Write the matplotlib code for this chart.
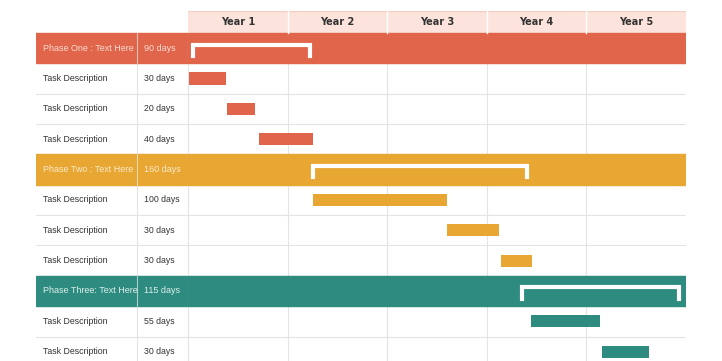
import matplotlib.pyplot as plt

# header years
years = ["Year 1", "Year 2", "Year 3", "Year 4", "Year 5"]

# phases
phase_names = ["Phase One : Text Here", "Phase Two : Text Here", "Phase Three: Text Here"]
phase_days = ["90 days", "160 days", "115 days"]
phase_start = [0.05, 1.26, 3.35]
phase_end = [1.22, 3.40, 4.93]
phase_colors = ["#E0654A", "#E8A633", "#2E8B80"]
phase_text = ["#F8DCD2", "#FBEBCB", "#DDF0EC"]

# tasks (positions in years)
task_days = [["30 days", "20 days", "40 days"],
             ["100 days", "30 days", "30 days"],
             ["55 days", "30 days"]]
task_start = [[0.01, 0.39, 0.71], [1.26, 2.60, 3.14], [3.44, 4.16]]
task_end = [[0.38, 0.67, 1.25], [2.60, 3.12, 3.45], [4.14, 4.63]]

W, H = 722, 361
fig = plt.figure(figsize=(W / 100, H / 100), dpi=100)
fig.patch.set_facecolor("white")

row_px = 30.35
head = 22 / row_px
y_bottom = (H - 33) / row_px

ax_t = fig.add_axes([36 / W, 0, (188 - 36) / W, (H - 11) / H])
ax_g = fig.add_axes([188 / W, 0, (686 - 188) / W, (H - 11) / H])
for ax in (ax_t, ax_g):
    ax.set_ylim(y_bottom, -head)
    ax.axis("off")
ax_t.set_xlim(0, 152)
ax_g.set_xlim(0, len(years))

grid = "#E4E4E4"

# header
ax_g.axhspan(-head, 0, color="#FCE3DB", zorder=1)
ax_g.axhline(-head, color="#F3CFC3", lw=1, zorder=2)
for i, yr in enumerate(years):
    ax_g.text(i + 0.5, -head / 2, yr, ha="center", va="center",
              fontsize=7, fontweight="bold", color="#333333", zorder=3)
    if i > 0:
        ax_g.plot([i, i], [-head, 0], color="white", lw=1, zorder=2)

# build rows
rows = []
for p in range(len(phase_names)):
    rows.append(("phase", p, None))
    for t in range(len(task_days[p])):
        rows.append(("task", p, t))

for r, (kind, p, t) in enumerate(rows):
    yc = r + 0.5
    if kind == "phase":
        for ax in (ax_t, ax_g):
            ax.axhspan(r, r + 1, color=phase_colors[p], zorder=1)
        ax_t.text(7, yc, phase_names[p], ha="left", va="center", fontsize=6.5,
                  family="Liberation Sans", color=phase_text[p], zorder=4)
        ax_t.text(108, yc, phase_days[p], ha="left", va="center", fontsize=6.5,
                  family="Liberation Sans", color=phase_text[p], zorder=4)
        ax_t.plot([101, 101], [r, r + 1], color="white", alpha=0.6, lw=0.8, zorder=3)
        ax_t.plot([152, 152], [r, r + 1], color="white", alpha=0.6, lw=0.8, zorder=3)
        s, e = phase_start[p], phase_end[p]
        ax_g.plot([s, s, e, e], [r + 0.75, r + 0.38, r + 0.38, r + 0.75],
                  color="white", lw=3, solid_joinstyle="miter", zorder=3)
    else:
        ax_t.text(7, yc, "Task Description", ha="left", va="center", fontsize=6.3,
                  family="Liberation Sans", color="#333333", zorder=4)
        ax_t.text(108, yc, task_days[p][t], ha="left", va="center", fontsize=6.3,
                  family="Liberation Sans", color="#333333", zorder=4)
        ax_t.plot([101, 101], [r, r + 1], color=grid, lw=0.8, zorder=0)
        ax_t.plot([152, 152], [r, r + 1], color=grid, lw=0.8, zorder=0)
        for i in range(len(years)):
            ax_g.plot([i, i], [r, r + 1], color=grid, lw=0.8, zorder=0)
        s, e = task_start[p][t], task_end[p][t]
        ax_g.barh(yc, e - s, left=s, height=0.4, color=phase_colors[p], zorder=3)
    for ax in (ax_t, ax_g):
        ax.axhline(r + 1, color=grid, lw=0.8, zorder=0)

fig.savefig("out.png", dpi=100, facecolor="white")
